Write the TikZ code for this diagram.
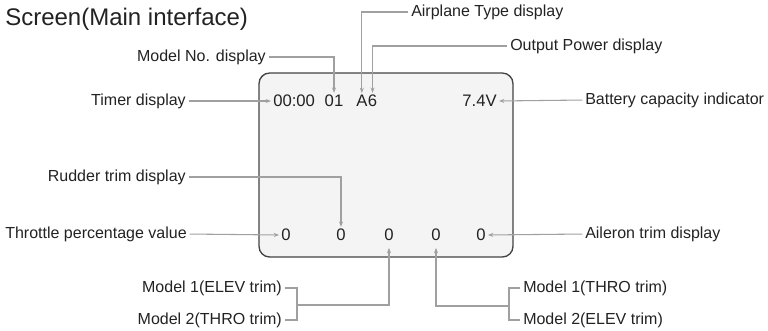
\documentclass[tikz,border=0pt]{standalone}
\usepackage{fontspec}
\setmainfont{Liberation Sans}
\usetikzlibrary{arrows.meta}
\definecolor{ink}{HTML}{222222}
\definecolor{wire}{HTML}{A0A0A0}
\definecolor{lcd}{HTML}{F4F4F4}
\begin{document}
\begin{tikzpicture}[x=0.75pt,y=-0.75pt,
		lbl/.style={inner sep=0pt,text=ink,font=\fontsize{12}{14}\selectfont},
		val/.style={inner sep=0pt,text=ink,font=\fontsize{12.5}{14}\selectfont},
		ptr/.style={draw=wire,line width=0.8pt,-{Stealth[length=4pt,width=3pt]},shorten <=2pt,shorten >=1.5pt},
		brace/.style={draw=wire,line width=0.8pt}]
	\useasboundingbox (0,0) rectangle (768,330);
	\node[anchor=west,text=ink,font=\fontsize{18}{21}\selectfont,inner sep=0pt] (title) at (5,19) {Screen(Main interface)};
	% screen
	\draw[fill=lcd,draw=ink!85,line width=1pt,rounded corners=8] (259,73) rectangle (513,257);
	\node[val,anchor=west] (clock) at (273,101) {00:00};
	\node[val] (num) at (334,101) {01};
	\node[val,anchor=west] (plane) at (356,101) {A};
	\node[val,anchor=west] (power) at (plane.east) {6};
	\node[val,anchor=east] (batt) at (497,101) {7.4V};
	\node[val] (thr) at (286,235) {0};
	\node[val] (rud) at (341,235) {0};
	\node[val] (trima) at (389,235) {0};
	\node[val] (trimb) at (436,235) {0};
	\node[val] (ail) at (481,235) {0};
	% labels
	\node[lbl,anchor=east] (timer) at (186,101) {Timer display};
	\node[lbl,anchor=east] (modelno) at (266,57) {Model No. display};
	\node[lbl,anchor=west] (type) at (411,12) {Airplane Type display};
	\node[lbl,anchor=west] (output) at (510,46) {Output Power display};
	\node[lbl,anchor=west] (battery) at (585,100) {Battery capacity indicator};
	\node[lbl,anchor=east] (rudder) at (186,177) {Rudder trim display};
	\node[lbl,anchor=east] (throttle) at (187,234) {Throttle percentage value};
	\node[lbl,anchor=west] (aileron) at (585,234) {Aileron trim display};
	\node[lbl,anchor=east] (oneelev) at (282,288) {Model 1(ELEV trim)};
	\node[lbl,anchor=east] (twothro) at (282,320) {Model 2(THRO trim)};
	\node[lbl,anchor=west] (onethro) at (523,288) {Model 1(THRO trim)};
	\node[lbl,anchor=west] (twoelev) at (523,320) {Model 2(ELEV trim)};
	% pointers
	\draw[ptr] (timer.east) -- (clock.west);
	\draw[ptr] (modelno.east) -| (num.north);
	\draw[ptr] (type.west) -| (plane.north);
	\draw[ptr] (output.west) -| (power.north);
	\draw[ptr] (battery.west) -- (batt.east);
	\draw[ptr] (rudder.east) -| (rud.north);
	\draw[ptr] (throttle.east) -- (thr.west);
	\draw[ptr] (aileron.west) -- (ail.east);
	\coordinate (lbr) at (297,305);
	\coordinate (rbr) at (509,306);
	\draw[brace] ([xshift=2pt]oneelev.east) -| (lbr) |- ([xshift=2pt]twothro.east);
	\draw[brace] ([xshift=-2pt]onethro.west) -| (rbr) |- ([xshift=-2pt]twoelev.west);
	\draw[ptr,shorten <=0pt,shorten >=5pt] (lbr) -| (trima.south);
	\draw[ptr,shorten <=0pt,shorten >=5pt] (rbr) -| (trimb.south);
\end{tikzpicture}
\end{document}
